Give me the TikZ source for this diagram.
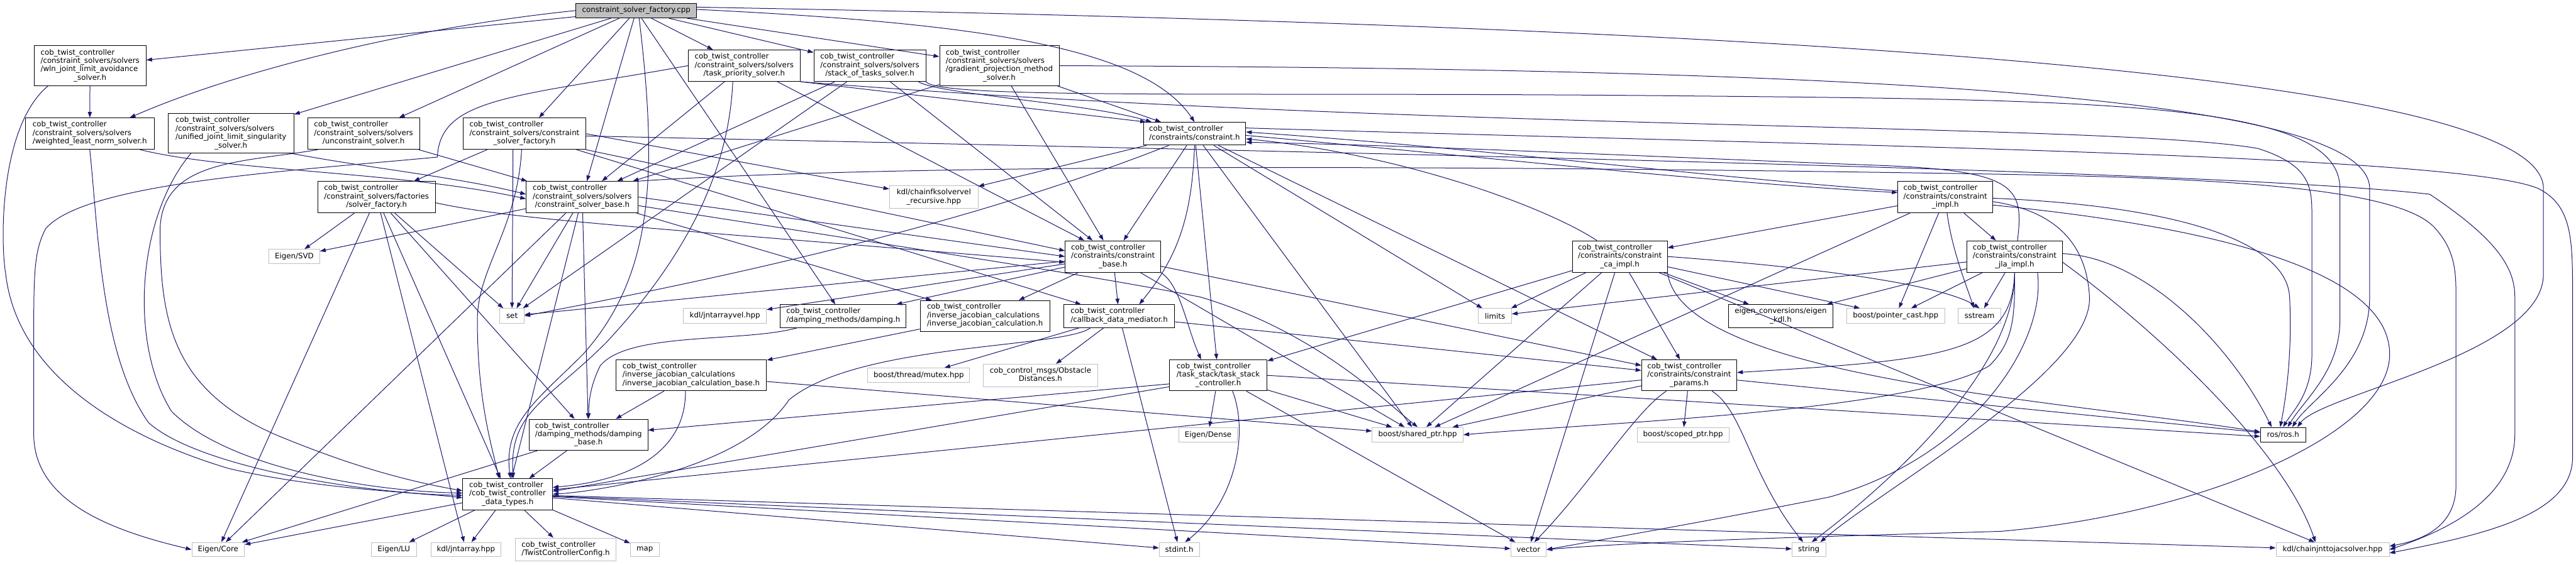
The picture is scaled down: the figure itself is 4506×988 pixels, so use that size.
\documentclass[tikz,border=0pt]{standalone}
\usepackage{fontspec}
\setmainfont{DejaVu Sans}
\usetikzlibrary{arrows.meta}
\definecolor{edgec}{HTML}{191970}
\definecolor{gbord}{HTML}{BFBFBF}
\newcommand{\nlab}[2]{\begin{tabular}{@{}l@{}}#1\\\multicolumn{1}{@{}c@{}}{#2}\end{tabular}}
\newcommand{\mknode}[7]{\node[#6,minimum width=#4pt,minimum height=#5pt] (#1) at (#2,#3) {#7};}
\tikzset{
 nb/.style={draw=black, line width=1pt, fill=white, inner sep=0pt, font=\fontsize{13}{14.8}\selectfont},
 ng/.style={nb, draw=gbord},
 nr/.style={nb, fill=gbord},
}
\begin{document}
\begin{tikzpicture}[x=1pt,y=-1pt]
\useasboundingbox (0,0) rectangle (4506,988);
\fill[white] (0,0) rectangle (4506,988);
% ---------------- nodes
\mknode{root}{1113}{18.5}{211}{26}{nr}{constraint\_solver\_factory.cpp}
\mknode{wln}{157.5}{115}{196}{70}{nb}{\nlab{cob\_twist\_controller\\/constraint\_solvers/solvers\\/wln\_joint\_limit\_avoidance}{\_solver.h}}
\mknode{wlns}{157}{234}{225}{55}{nb}{\nlab{cob\_twist\_controller\\/constraint\_solvers/solvers}{/weighted\_least\_norm\_solver.h}}
\mknode{ujls}{404}{233.5}{220}{69}{nb}{\nlab{cob\_twist\_controller\\/constraint\_solvers/solvers\\/unified\_joint\_limit\_singularity}{\_solver.h}}
\mknode{unc}{636}{234}{196}{55}{nb}{\nlab{cob\_twist\_controller\\/constraint\_solvers/solvers}{/unconstraint\_solver.h}}
\mknode{sfac}{658.7}{345}{206}{55}{nb}{\nlab{cob\_twist\_controller\\/constraint\_solvers/factories}{/solver\_factory.h}}
\mknode{esvd}{514.7}{449}{89}{25}{ng}{Eigen/SVD}
\mknode{csfh}{917.4}{234}{214}{55}{nb}{\nlab{cob\_twist\_controller\\/constraint\_solvers/constraint}{\_solver\_factory.h}}
\mknode{csb}{1018.5}{345}{196}{55}{nb}{\nlab{cob\_twist\_controller\\/constraint\_solvers/solvers}{/constraint\_solver\_base.h}}
\mknode{tps}{1301.8}{115}{196}{55}{nb}{\nlab{cob\_twist\_controller\\/constraint\_solvers/solvers}{/task\_priority\_solver.h}}
\mknode{sot}{1521.5}{115}{196}{55}{nb}{\nlab{cob\_twist\_controller\\/constraint\_solvers/solvers}{/stack\_of\_tasks\_solver.h}}
\mknode{gpm}{1748}{115}{209}{70}{nb}{\nlab{cob\_twist\_controller\\/constraint\_solvers/solvers\\/gradient\_projection\_method}{\_solver.h}}
\mknode{cons}{2089.5}{234}{179}{40}{nb}{\nlab{cob\_twist\_controller}{/constraints/constraint.h}}
\mknode{kdlfk}{1633.4}{345}{155}{40}{ng}{\nlab{kdl/chainfksolvervel}{\_recursive.hpp}}
\mknode{cbase}{1946.8}{449}{167}{55}{nb}{\nlab{cob\_twist\_controller\\/constraints/constraint}{\_base.h}}
\mknode{cca}{2833.4}{449}{166}{55}{nb}{\nlab{cob\_twist\_controller\\/constraints/constraint}{\_ca\_impl.h}}
\mknode{cimpl}{3402.8}{345}{166}{55}{nb}{\nlab{cob\_twist\_controller\\/constraints/constraint}{\_impl.h}}
\mknode{cjla}{3524}{449}{167}{55}{nb}{\nlab{cob\_twist\_controller\\/constraints/constraint}{\_jla\_impl.h}}
\mknode{ecore}{381.5}{962}{92}{25}{ng}{Eigen/Core}
\mknode{elu}{689}{962}{78.5}{25}{ng}{Eigen/LU}
\mknode{jnta}{815}{962}{122.6}{25}{ng}{kdl/jntarray.hpp}
\mknode{tcc}{989.5}{961.7}{177}{40}{ng}{\nlab{cob\_twist\_controller}{/TwistControllerConfig.h}}
\mknode{map}{1127.8}{962}{50.4}{25}{ng}{map}
\mknode{set}{895.6}{553}{42.7}{26}{ng}{set}
\mknode{jntav}{1268}{553}{145}{26}{ng}{kdl/jntarrayvel.hpp}
\mknode{damp}{1475}{553.3}{220}{40}{nb}{\nlab{cob\_twist\_controller}{/damping\_methods/damping.h}}
\mknode{ijc}{1722.9}{553}{227}{54}{nb}{\nlab{cob\_twist\_controller\\/inverse\_jacobian\_calculations}{/inverse\_jacobian\_calculation.h}}
\mknode{cdm}{1957.7}{553.3}{194.4}{40}{nb}{\nlab{cob\_twist\_controller}{/callback\_data\_mediator.h}}
\mknode{limits}{2615}{553}{58}{26}{ng}{limits}
\mknode{ekdl}{3114.9}{553.3}{182.7}{40}{nb}{\nlab{eigen\_conversions/eigen}{\_kdl.h}}
\mknode{pcast}{3316}{553}{171}{26}{ng}{boost/pointer\_cast.hpp}
\mknode{sstr}{3462.6}{553}{74.6}{26}{ng}{sstream}
\mknode{ijcb}{1209}{657}{263.6}{54}{nb}{\nlab{cob\_twist\_controller\\/inverse\_jacobian\_calculations}{/inverse\_jacobian\_calculation\_base.h}}
\mknode{dbase}{1029.4}{761}{207.4}{54.3}{nb}{\nlab{cob\_twist\_controller\\/damping\_methods/damping}{\_base.h}}
\mknode{dtyp}{887.9}{865}{157}{54.3}{nb}{\nlab{cob\_twist\_controller\\/cob\_twist\_controller}{\_data\_types.h}}
\mknode{mutex}{1607}{657}{178.4}{25.7}{ng}{boost/thread/mutex.hpp}
\mknode{obst}{1820}{657.3}{200}{40}{ng}{\nlab{cob\_control\_msgs/Obstacle}{Distances.h}}
\mknode{tsc}{2131}{657}{170.6}{54.3}{nb}{\nlab{cob\_twist\_controller\\/task\_stack/task\_stack}{\_controller.h}}
\mknode{edense}{2113.3}{761}{102.3}{25.7}{ng}{Eigen/Dense}
\mknode{stdint}{2062.9}{962}{70.3}{25}{ng}{stdint.h}
\mknode{shptr}{2479.8}{761}{159}{25.7}{ng}{boost/shared\_ptr.hpp}
\mknode{cpar}{2954.8}{657}{166.5}{54.3}{nb}{\nlab{cob\_twist\_controller\\/constraints/constraint}{\_params.h}}
\mknode{scptr}{2944}{761}{160.8}{25.7}{ng}{boost/scoped\_ptr.hpp}
\mknode{vector}{2673.7}{962}{62}{25}{ng}{vector}
\mknode{string}{3164}{962}{59}{25}{ng}{string}
\mknode{ros}{3993.6}{761}{79}{25.7}{nb}{ros/ros.h}
\mknode{cjac}{4080.2}{962}{198}{25}{ng}{kdl/chainjnttojacsolver.hpp}
% ---------------- edges
\begin{scope}[color=edgec, line width=1.1pt, -{Triangle[length=10pt,width=7pt]}]
% root
\draw (root) -- (wln);
\draw (root.west) .. controls (700,50) and (400,130) .. ([xshift=70pt]wlns.north);
\draw (root) -- (ujls);
\draw (root) -- (unc);
\draw (root) -- (csfh);
\draw (root) -- (csb);
\draw (root) -- (tps);
\draw (root) -- (sot);
\draw (root) -- (gpm);
\draw (root) -- (damp);
\draw ([yshift=2pt]root.east) .. controls (1700,40) and (2000,80) .. (cons.north);
\draw ([yshift=6pt]root.east) .. controls (3000,45) and (4449,120) .. (4449,330) -- (4449,480) .. controls (4449,620) and (4060,690) .. ([xshift=25pt]ros.north);
\draw ([xshift=5pt]root.south) .. controls (1150,300) and (1145,480) .. (1020,620) .. controls (940,700) and (880,740) .. ([xshift=5pt]dtyp.north);
% wln
\draw (wln) -- (wlns);
\draw ([xshift=25pt]wln.south west) .. controls (0,220) and (0,420) .. (10,480) .. controls (30,650) and (200,760) .. (400,820) .. controls (550,855) and (700,860) .. ([yshift=-6pt]dtyp.west);
% wlns
\draw ([xshift=-25pt]wlns.south east) .. controls (400,300) and (700,300) .. ([yshift=-3pt]csb.west);
\draw (wlns.south) .. controls (172,400) and (175,620) .. (260,740) .. controls (350,820) and (650,865) .. ([yshift=-2pt]dtyp.west);
% ujls
\draw ([xshift=-5pt]ujls.south east) .. controls (650,295) and (800,310) .. ([yshift=5pt]csb.west);
\draw ([xshift=-70pt]ujls.south) .. controls (240,380) and (225,600) .. (300,720) .. controls (400,820) and (650,860) .. ([yshift=2pt]dtyp.west);
% unc
\draw (unc) -- (csb);
\draw ([xshift=-80pt]unc.south) .. controls (420,285) and (285,280) .. (280,400) .. controls (280,560) and (300,680) .. (480,760) .. controls (600,810) and (700,840) .. ([yshift=6pt]dtyp.west);
% csfh
\draw (csfh) -- (sfac);
\draw ([xshift=-20pt]csfh.south) -- (set);
\draw (csfh.east) -- (kdlfk);
\draw ([xshift=-5pt]csfh.south) .. controls (905,400) and (835,470) .. (835,560) .. controls (835,700) and (860,780) .. ([xshift=-15pt]dtyp.north);
\draw (csfh.south east) -- ([yshift=10pt]cbase.west);
\draw (csfh) -- (cdm);
\draw ([yshift=-4pt]csfh.east) .. controls (2500,270) and (3900,300) .. (4250,340) .. controls (4370,420) and (4399,470) .. (4399,520) -- (4399,760) .. controls (4399,880) and (4260,935) .. (cjac.east);
% sfac
\draw (sfac) -- (esvd);
\draw (sfac) -- (ecore);
\draw (sfac) -- (jnta);
\draw (sfac) -- (dtyp);
\draw (sfac) -- (dbase);
\draw (sfac) -- (set);
\draw ([yshift=-10pt]sfac.east) .. controls (900,385) and (1100,395) .. ([yshift=-10pt]cbase.west);
% csb
\draw (csb) -- (esvd);
\draw (csb) -- (ecore);
\draw (csb) -- (set);
\draw (csb) -- (dtyp);
\draw (csb) -- (dbase);
\draw (csb) -- (ijc);
\draw (csb.east) -- (cbase.west);
\draw ([yshift=-15pt]csb.east) .. controls (1500,420) and (1900,480) .. (2100,520) .. controls (2300,580) and (2420,700) .. (shptr.north);
\draw (csb.north east) .. controls (1600,285) and (2600,290) .. (3500,305) .. controls (3900,312) and (4200,330) .. (4260,400) .. controls (4296,440) and (4296,480) .. (4296,520) -- (4296,850) .. controls (4296,920) and (4240,945) .. ([yshift=6pt]cjac.east);
% tps
\draw (tps) -- (csb);
\draw (tps.south east) -- ([xshift=5pt]cons.north west);
\draw ([xshift=58pt]tps.south) -- ([xshift=-50pt]cbase.north);
\draw (tps.south east) .. controls (2500,230) and (3700,215) .. (3950,260) .. controls (4044,290) and (4044,330) .. (4044,380) -- (4044,620) .. controls (4044,690) and (4010,720) .. (ros.north);
\draw (tps.west) .. controls (900,170) and (770,170) .. (765,275) .. controls (500,300) and (150,320) .. (80,400) .. controls (59,440) and (59,480) .. (59,600) -- (59,760) .. controls (59,880) and (200,930) .. (ecore.west);
\draw ([xshift=-20pt]tps.south) .. controls (1275,300) and (1200,450) .. (1060,600) .. controls (960,700) and (890,720) .. ([xshift=10pt]dtyp.north);
% sot
\draw (sot) -- (csb);
\draw ([xshift=85pt]sot.south) .. controls (1640,165) and (1900,180) .. ([xshift=15pt]cons.north west);
\draw (sot) -- (cbase);
\draw (sot) -- (set);
\draw (sot.south east) .. controls (1640,175) and (2200,160) .. (2960,168) .. controls (3700,175) and (4093,180) .. (4093,330) -- (4093,560) .. controls (4093,650) and (4030,700) .. ([xshift=8pt]ros.north);
% gpm
\draw (gpm) -- (csb);
\draw (gpm) -- (cons);
\draw (gpm) -- (cbase);
\draw (gpm.east) .. controls (3300,120) and (4145,170) .. (4145,330) -- (4145,520) .. controls (4145,640) and (4040,700) .. ([xshift=16pt]ros.north);
% cons
\draw (cons) -- (kdlfk);
\draw (cons) -- (cbase);
\draw (cons) -- (limits);
\draw (cons) -- (tsc);
\draw (cons) -- (cpar);
\draw (cons) -- (shptr);
\draw ([xshift=-45pt]cons.south) .. controls (1700,390) and (1300,480) .. (set.east);
\draw ([yshift=-3pt]cons.east) .. controls (2600,275) and (3000,320) .. ([yshift=8pt]cimpl.west);
\draw (cons.south) .. controls (2085,380) and (2060,450) .. ([xshift=35pt]cdm.north);
\draw ([yshift=10pt]cons.east) .. controls (3200,255) and (4300,270) .. (4440,330) .. controls (4500,360) and (4500,420) .. (4500,520) -- (4500,800) .. controls (4500,900) and (4350,935) .. ([yshift=-6pt]cjac.east);
% cbase
\draw (cbase) -- (set);
\draw (cbase) -- (jntav);
\draw (cbase) -- (shptr);
\draw (cbase) -- (cdm);
\draw (cbase.south east) .. controls (2065,500) and (2075,570) .. ([xshift=-30pt]tsc.north);
\draw (cbase) -- (cpar);
\draw (cbase) -- (damp);
\draw (cbase) -- (ijc);
% cdm
\draw (cdm) -- (mutex);
\draw (cdm) -- (obst);
\draw (cdm) -- (stdint);
\draw (cdm) -- (cpar);
\draw ([xshift=-50pt]cdm.south) .. controls (1860,610) and (1500,600) .. (1380,700) .. controls (1300,820) and (1050,860) .. (dtyp.east);
% tsc
\draw (tsc) -- (edense);
\draw ([xshift=25pt]tsc.south) .. controls (2185,760) and (2160,880) .. ([xshift=10pt]stdint.north);
\draw ([yshift=-15pt]tsc.west) -- ([yshift=8pt]dbase.east);
\draw ([yshift=-20pt]tsc.west) -- ([yshift=5pt]dtyp.east);
\draw (tsc) -- (shptr);
\draw (tsc.east) -- ([yshift=-3pt]ros.west);
\draw (tsc) -- (vector);
% ijc, ijcb, damping
\draw (ijc) -- (ijcb);
\draw (ijcb) -- (dbase);
\draw (ijcb) -- (shptr);
\draw ([xshift=-10pt]ijcb.south) .. controls (1200,780) and (1120,840) .. ([yshift=12pt]dtyp.east);
\draw ([xshift=-80pt]damp.south) .. controls (1300,600) and (1100,580) .. (1050,640) .. controls (1030,680) and (1030,710) .. (dbase.north);
\draw (dbase) -- (dtyp);
\draw (dbase) -- (ecore);
% data types
\draw (dtyp) -- (ecore);
\draw (dtyp) -- (elu);
\draw (dtyp) -- (jnta);
\draw (dtyp) -- (tcc);
\draw (dtyp.south east) -- (map);
\draw (dtyp) -- (stdint);
\draw (dtyp) -- (vector);
\draw (dtyp) -- (string);
\draw (dtyp) -- (cjac);
% params
\draw (cpar) -- (scptr);
\draw (cpar) -- (shptr);
\draw (cpar) -- (dtyp);
\draw (cpar) -- (ros);
\draw ([xshift=-40pt]cpar.south) .. controls (2860,720) and (2780,850) .. ([xshift=10pt]vector.north);
\draw ([xshift=40pt]cpar.south) .. controls (3050,720) and (3060,830) .. ([xshift=-10pt]string.north);
% ca impl
\draw ([xshift=-40pt]cca.north) .. controls (2700,360) and (2450,270) .. ([yshift=-9pt]cons.east);
\draw (cca) -- (limits);
\draw (cca) -- (shptr);
\draw (cca) -- (pcast);
\draw (cca) -- (ekdl);
\draw (cca) -- (vector);
\draw (cca) -- (cjac);
\draw (cca) -- (cpar);
\draw (cca) -- (tsc);
\draw (cca.east) .. controls (3200,470) and (3400,500) .. (sstr.north);
\draw (cca.south east) .. controls (2940,660) and (3600,700) .. ([yshift=5pt]ros.west);
% jla impl
\draw ([xshift=5pt]cjla.north) .. controls (3540,330) and (3530,300) .. (3300,290) .. controls (2900,275) and (2500,255) .. ([yshift=-15pt]cons.east);
\draw (cjla) -- (limits);
\draw (cjla) -- (pcast);
\draw (cjla) -- (sstr);
\draw (cjla) -- (ekdl);
\draw (cjla.south) .. controls (3525,560) and (3520,600) .. (3480,640) .. controls (3350,720) and (2800,740) .. (shptr.east);
\draw ([xshift=40pt]cjla.south) .. controls (3580,600) and (3450,800) .. (3200,870) .. controls (3000,910) and (2800,945) .. (vector.east);
\draw (cjla.south) .. controls (3525,650) and (3300,850) .. ([xshift=5pt]string.north);
\draw ([yshift=-10pt]cjla.east) .. controls (3800,600) and (4000,800) .. ([xshift=-30pt]cjac.north);
\draw (cjla.south) .. controls (3520,620) and (3400,630) .. ([yshift=5pt]cpar.east);
\draw ([yshift=5pt]cjla.east) .. controls (3750,450) and (3900,600) .. ([xshift=-20pt]ros.north);
% impl
\draw ([yshift=11pt]cimpl.west) .. controls (3000,312) and (2600,260) .. ([yshift=3pt]cons.east);
\draw (cimpl) -- (cca);
\draw (cimpl) -- (cjla);
\draw (cimpl) -- (pcast);
\draw (cimpl) -- (shptr);
\draw ([xshift=3pt]cimpl.south) .. controls (3415,440) and (3440,500) .. ([xshift=-10pt]sstr.north);
\draw ([yshift=-2pt]cimpl.east) .. controls (3800,360) and (4000,420) .. (4005,520) .. controls (4010,620) and (3998,700) .. ([xshift=-5pt]ros.north);
\draw ([yshift=-8pt]cimpl.east) .. controls (3600,370) and (3650,430) .. (3655,520) .. controls (3660,650) and (3300,850) .. ([xshift=20pt]string.north);
\draw ([yshift=-14pt]cimpl.east) .. controls (3900,400) and (4180,480) .. (4180,620) .. controls (4180,760) and (3850,900) .. (3500,930) .. controls (3350,935) and (2900,945) .. (vector.east);
\end{scope}
\end{tikzpicture}
\end{document}
